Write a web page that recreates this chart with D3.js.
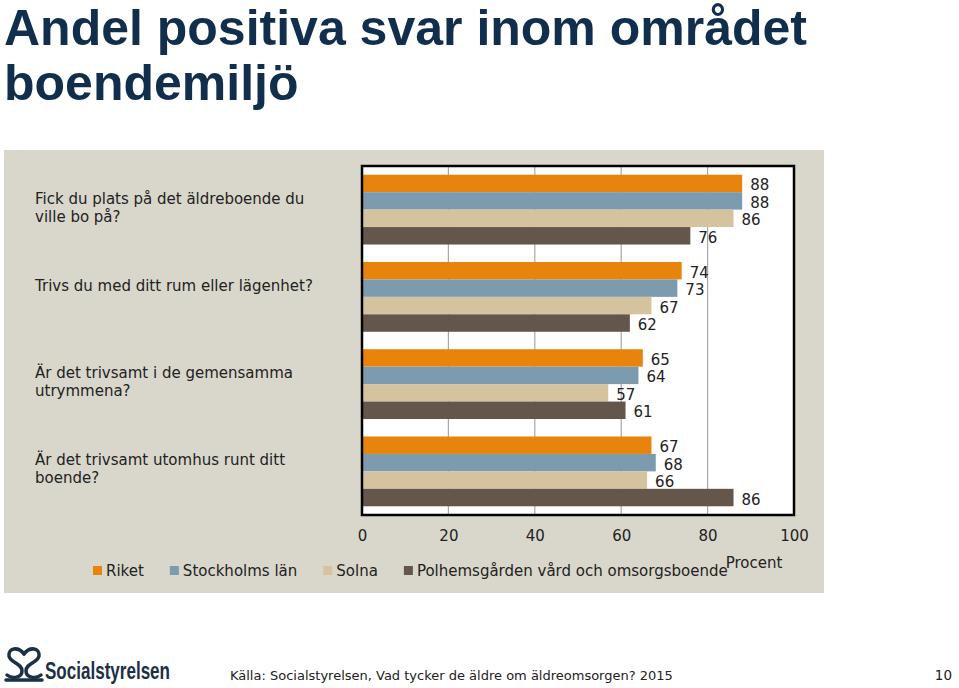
<!DOCTYPE html>
<html><head><meta charset="utf-8">
<script src="https://cdn.jsdelivr.net/npm/d3@7"></script>
<style>
html,body{margin:0;padding:0;background:#fff;}
svg{display:block;}
</style></head>
<body>
<svg id="c" width="959" height="688"></svg>
<script>
const title = ["Andel positiva svar inom området", "boendemiljö"];
const categories = [
  ["Fick du plats på det äldreboende du", "ville bo på?"],
  ["Trivs du med ditt rum eller lägenhet?", ""],
  ["Är det trivsamt i de gemensamma", "utrymmena?"],
  ["Är det trivsamt utomhus runt ditt", "boende?"]
];
const seriesNames = ["Riket", "Stockholms län", "Solna", "Polhemsgården vård och omsorgsboende"];
const riket = [88, 74, 65, 67];
const stockholm = [88, 73, 64, 68];
const solna = [86, 67, 57, 66];
const polhem = [76, 62, 61, 86];
const seriesValues = [riket, stockholm, solna, polhem];
const colors = ["#E8830C", "#7D9BAF", "#D5C39F", "#64564B"];
const xTicks = [0, 20, 40, 60, 80, 100];
const axisTitle = "Procent";
const source = "Källa: Socialstyrelsen, Vad tycker de äldre om äldreomsorgen? 2015";
const pageNo = "10";

const FONT = "'DejaVu Sans', sans-serif";
const svg = d3.select("#c");

// title
svg.append("g").selectAll("text").data(title).join("text")
  .attr("x", 4).attr("y", (d, i) => 45 + i * 55)
  .attr("font-family", "'Liberation Sans', Arial, sans-serif")
  .attr("font-weight", "bold").attr("font-size", 50)
  .attr("fill", "#112F4C").text(d => d);

// panel
svg.append("rect").attr("x", 4).attr("y", 150).attr("width", 820).attr("height", 443).attr("fill", "#D9D7CB");

const x = d3.scaleLinear().domain([0, 100]).range([362, 794]);
const y = d3.scaleBand().domain(d3.range(categories.length)).range([166, 515]).paddingInner(0.2).paddingOuter(0.1);
const ys = d3.scaleBand().domain(d3.range(seriesNames.length)).range([0, y.bandwidth()]);

svg.append("rect").attr("x", x(0)).attr("y", 166).attr("width", x(100) - x(0)).attr("height", 515 - 166).attr("fill", "#fff");

// gridlines
svg.append("g").selectAll("line").data(xTicks.slice(1, -1)).join("line")
  .attr("x1", d => x(d)).attr("x2", d => x(d)).attr("y1", 166).attr("y2", 515)
  .attr("stroke", "#A8A8A8").attr("stroke-width", 1.2);

// bars
const flat = [];
seriesValues.forEach((vals, s) => vals.forEach((v, c) => flat.push({s, c, v})));
svg.append("g").selectAll("rect").data(flat).join("rect")
  .attr("x", x(0)).attr("y", d => y(d.c) + ys(d.s))
  .attr("width", d => x(d.v) - x(0)).attr("height", ys.bandwidth())
  .attr("fill", d => colors[d.s]);

// value labels
svg.append("g").selectAll("text").data(flat).join("text")
  .attr("x", d => x(d.v) + 8).attr("y", d => y(d.c) + ys(d.s) + ys.bandwidth() / 2 + 7)
  .attr("font-family", FONT).attr("font-size", 15).attr("fill", "#222")
  .text(d => d.v);

// border
svg.append("rect").attr("x", x(0)).attr("y", 166).attr("width", x(100) - x(0)).attr("height", 515 - 166)
  .attr("fill", "none").attr("stroke", "#000").attr("stroke-width", 2.5);

// x axis labels
const ax = svg.append("g").attr("transform", "translate(0,530)")
  .call(d3.axisBottom(x).tickValues(xTicks).tickSize(0).tickPadding(0));
ax.select(".domain").remove();
ax.selectAll("text").attr("font-family", FONT).attr("font-size", 15).attr("fill", "#222");

svg.append("text").attr("x", 754).attr("y", 568).attr("text-anchor", "middle")
  .attr("font-family", FONT).attr("font-size", 15).attr("fill", "#222").text(axisTitle);

// category labels
const cg = svg.append("g").selectAll("g").data(categories).join("g");
cg.selectAll("text").data((d, ci) => d.map((t, i) => ({t, i, n: d.length, ci}))).join("text")
  .attr("x", 35)
  .attr("y", d => y(d.ci) + y.bandwidth() / 2 + (d.i - (d.n - 1) / 2) * 18 + 3)
  .attr("font-family", FONT).attr("font-size", 15).attr("fill", "#222").text(d => d.t);

// legend
const lg = svg.append("g");
let lx = 93;
seriesNames.forEach((n, i) => {
  lg.append("rect").attr("x", lx).attr("y", 566).attr("width", 9).attr("height", 9).attr("fill", colors[i]);
  const t = lg.append("text").attr("x", lx + 13).attr("y", 576)
    .attr("font-family", FONT).attr("font-size", 15).attr("fill", "#222").text(n);
  lx += 13 + t.node().getComputedTextLength() + 26;
});

// footer
svg.append("text").attr("x", 230).attr("y", 680).attr("font-family", FONT).attr("font-size", 13).attr("fill", "#222").text(source);
svg.append("text").attr("x", 952).attr("y", 680).attr("text-anchor", "end").attr("font-family", FONT).attr("font-size", 13.5).attr("fill", "#222").text(pageNo);

// logo
const logo = svg.append("g").attr("fill", "none").attr("stroke", "#1B2F45").attr("stroke-width", 3.5).attr("stroke-linecap", "round");
logo.append("path").attr("d", "M24,654 C18,646 8,648 9,656 C10,663 22,663 22,671 C22,678 12,679 7,675");
logo.append("path").attr("d", "M24,654 C30,646 40,648 39,656 C38,663 26,663 26,671 C26,678 36,679 41,675");
logo.append("path").attr("d", "M6,680 L42,680");
svg.append("text").attr("x", 45).attr("y", 679)
  .attr("font-family", "'Liberation Sans', sans-serif").attr("font-weight", "bold")
  .attr("font-size", 23).attr("textLength", 125).attr("lengthAdjust", "spacingAndGlyphs")
  .attr("fill", "#1B2F45").text("Socialstyrelsen");
</script>
</body></html>
